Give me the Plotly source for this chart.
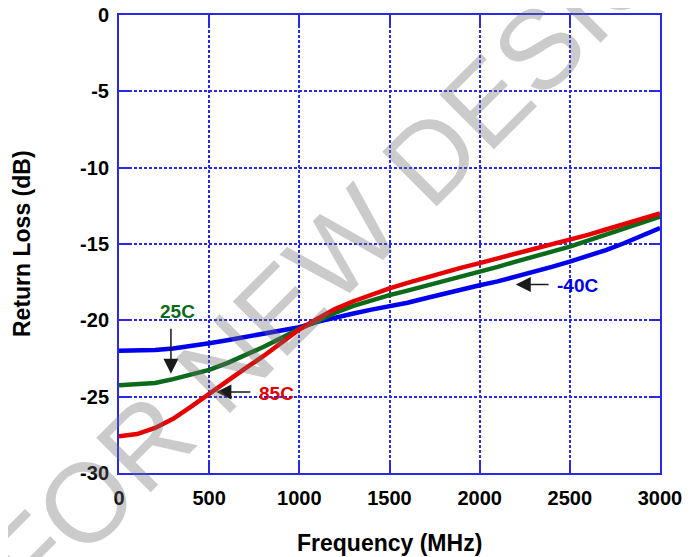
import plotly.graph_objects as go

freq_mhz = [0, 100, 200, 300, 400, 500, 600, 700, 800, 900, 1000, 1100, 1200, 1300, 1400, 1500,
            1600, 1700, 1800, 1900, 2000, 2100, 2200, 2300, 2400, 2500, 2600, 2700, 2800, 2900, 3000]
rl_m40c = [-22.0, -22.0, -21.95, -21.85, -21.7, -21.5, -21.3, -21.1, -20.85, -20.65, -20.45, -20.1,
           -19.8, -19.55, -19.3, -19.1, -18.85, -18.55, -18.25, -18.0, -17.7, -17.45, -17.15, -16.85,
           -16.5, -16.15, -15.8, -15.4, -14.95, -14.45, -13.95]
rl_25c = [-24.25, -24.2, -24.1, -23.85, -23.55, -23.25, -22.8, -22.3, -21.75, -21.15, -20.55, -20.05,
          -19.5, -19.05, -18.68, -18.35, -18.05, -17.75, -17.45, -17.1, -16.8, -16.5, -16.15, -15.85,
          -15.5, -15.17, -14.8, -14.4, -14.0, -13.6, -13.2]
rl_85c = [-27.6, -27.45, -27.05, -26.45, -25.65, -24.8, -23.95, -23.15, -22.35, -21.5, -20.6, -19.9,
          -19.25, -18.75, -18.3, -17.9, -17.55, -17.2, -16.85, -16.55, -16.25, -15.95, -15.65, -15.35,
          -15.0, -14.7, -14.4, -14.05, -13.7, -13.35, -13.0]

x_ticks = [0, 500, 1000, 1500, 2000, 2500, 3000]
y_ticks = [0, -5, -10, -15, -20, -25, -30]
y_tick_text = ["0", "-5", "-10", "-15", "-20", "-25", "-30"]

BLUE = "#0000ee"
GREEN = "#0b6b1b"
RED = "#e60000"
AXIS_BLUE = "#2a2ae6"
FONT = "Liberation Sans, Arial, sans-serif"

fig = go.Figure()
for ys, col, name in [(rl_m40c, BLUE, "-40C"), (rl_25c, GREEN, "25C"), (rl_85c, RED, "85C")]:
    fig.add_trace(go.Scatter(x=freq_mhz, y=ys, mode="lines", name=name,
                             line=dict(color=col, width=4.5)))

axis_common = dict(
    showline=True, linecolor=AXIS_BLUE, linewidth=2, mirror="ticks",
    ticks="inside", ticklen=10, tickwidth=2, tickcolor=AXIS_BLUE,
    showgrid=True, gridcolor="#2828f0", gridwidth=1.5, griddash="3px,2px",
    zeroline=False, automargin=False, ticklabeloverflow="allow",
    tickfont=dict(family=FONT, size=20, color="black", weight="bold"),
)

# the page body adds an ~8px offset, so margins are compensated
fig.update_layout(
    width=700, height=557,
    margin=dict(l=111, r=48, t=7, b=92),
    paper_bgcolor="white", plot_bgcolor="white",
    showlegend=False,
    xaxis=dict(range=[0, 3000], tickvals=x_ticks, ticklabelstandoff=6, **axis_common),
    yaxis=dict(range=[-30, 0], tickvals=y_ticks, ticktext=y_tick_text, ticklabelstandoff=4,
               **axis_common),
)

title_font = dict(family=FONT, size=23, color="black", weight="bold")
fig.add_annotation(xref="paper", yref="paper", x=0.5, y=0, yshift=-70, text="Frequency (MHz)",
                   showarrow=False, xanchor="center", yanchor="middle", font=title_font)
fig.add_annotation(xref="paper", yref="paper", x=0, y=0.5, xshift=-97, text="Return Loss (dB)",
                   showarrow=False, textangle=-90, xanchor="center", yanchor="middle",
                   font=title_font)

label_font = lambda c: dict(family=FONT, size=19, color=c, weight="bold")
# text labels
fig.add_annotation(x=322, y=-19.4, text="25C", showarrow=False, font=label_font(GREEN))
fig.add_annotation(x=875, y=-24.8, text="85C", showarrow=False, font=label_font(RED))
fig.add_annotation(x=2545, y=-17.75, text="-40C", showarrow=False, font=label_font(BLUE))
# arrows
arrow_common = dict(text="", showarrow=True, axref="x", ayref="y", arrowhead=2,
                    arrowsize=2, arrowwidth=1.5, arrowcolor="#1a1a1a")
fig.add_annotation(x=288, y=-23.5, ax=288, ay=-20.45, **arrow_common)
fig.add_annotation(x=540, y=-24.7, ax=737, ay=-24.7, **arrow_common)
fig.add_annotation(x=2200, y=-17.65, ax=2390, ay=-17.65, **arrow_common)

# watermark
fig.add_annotation(xref="paper", yref="paper", x=0.488, y=0.585, text="FOR NEW DESIGNS",
                   showarrow=False, textangle=-45, xanchor="center", yanchor="middle",
                   font=dict(family=FONT, size=112, color="rgba(110,110,110,0.36)"))

fig.write_html("out.html")
